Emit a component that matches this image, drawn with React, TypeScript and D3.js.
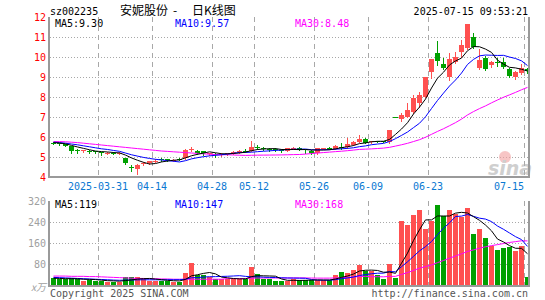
import React from 'react';
import * as d3 from 'd3';

// trading days shown on the chart (2025)
const dates = [
  '03-19', '03-20', '03-21', '03-24', '03-25', '03-26', '03-27', '03-28', '03-31',
  '04-01', '04-02', '04-03', '04-07', '04-08', '04-09', '04-10', '04-11', '04-14', '04-15', '04-16',
  '04-17', '04-18', '04-21', '04-22', '04-23', '04-24', '04-25', '04-28', '04-29', '04-30',
  '05-06', '05-07', '05-08', '05-09', '05-12', '05-13', '05-14', '05-15', '05-16', '05-19',
  '05-20', '05-21', '05-22', '05-23', '05-26', '05-27', '05-28', '05-29', '05-30',
  '06-03', '06-04', '06-05', '06-06', '06-09', '06-10', '06-11', '06-12', '06-13', '06-16',
  '06-17', '06-18', '06-19', '06-20', '06-23', '06-24', '06-25', '06-26', '06-27', '06-30',
  '07-01', '07-02', '07-03', '07-04', '07-07', '07-08', '07-09', '07-10', '07-11', '07-14', '07-15',
];

const tickDates = ['03-31', '04-14', '04-28', '05-12', '05-26', '06-09', '06-23', '07-15'];
const priceTicks = [4, 5, 6, 7, 8, 9, 10, 11, 12];
const volTicks = [80, 160, 240, 320];

const open = [
  5.72, 5.68, 5.63, 5.55, 5.33, 5.28, 5.31, 5.29, 5.25, 5.17,
  5.21, 5.17, 4.93, 4.50, 4.40, 4.66, 4.68, 4.78, 4.88, 4.88,
  4.82, 4.92, 4.93, 5.36, 5.28, 5.28, 5.15, 5.15, 5.10, 5.15,
  5.19, 5.26, 5.32, 5.32, 5.50, 5.45, 5.42, 5.40, 5.34, 5.30,
  5.42, 5.47, 5.38, 5.32, 5.18, 5.42, 5.44, 5.40, 5.52, 5.48,
  5.60, 5.77, 5.90, 5.74, 5.80, 5.78, 5.75, 6.99, 6.88, 7.02,
  7.27, 7.72, 8.02, 9.23, 10.22, 9.65, 9.02, 9.77, 10.23, 10.43,
  11.00, 9.45, 9.97, 9.60, 9.74, 9.77, 9.40, 9.02, 9.22, 9.40,
];
const high = [
  5.75, 5.71, 5.66, 5.57, 5.38, 5.36, 5.35, 5.31, 5.27, 5.24,
  5.25, 5.24, 4.96, 4.62, 4.65, 4.76, 4.82, 4.88, 4.93, 4.92,
  4.90, 4.95, 5.38, 5.48, 5.33, 5.32, 5.22, 5.18, 5.18, 5.22,
  5.30, 5.34, 5.40, 5.80, 5.58, 5.50, 5.45, 5.43, 5.38, 5.45,
  5.48, 5.50, 5.40, 5.34, 5.45, 5.47, 5.48, 5.58, 5.72, 5.97,
  5.78, 6.10, 5.95, 5.82, 5.82, 5.80, 6.35, 6.99, 7.20, 7.68,
  8.08, 8.25, 9.00, 9.90, 10.80, 9.95, 10.18, 10.27, 10.85, 11.65,
  11.20, 10.40, 10.05, 9.80, 9.95, 9.95, 9.45, 9.30, 9.65, 9.45,
];
const low = [
  5.64, 5.60, 5.54, 5.22, 5.22, 5.25, 5.22, 5.20, 5.08, 5.15,
  5.13, 5.14, 4.66, 4.32, 4.15, 4.60, 4.64, 4.74, 4.80, 4.80,
  4.80, 4.83, 4.90, 5.30, 5.15, 5.12, 5.10, 5.02, 5.07, 5.12,
  5.16, 5.22, 5.26, 5.30, 5.40, 5.35, 5.32, 5.30, 5.25, 5.28,
  5.38, 5.33, 5.22, 5.15, 5.16, 5.38, 5.38, 5.38, 5.40, 5.46,
  5.58, 5.75, 5.70, 5.70, 5.74, 5.74, 5.72, 6.98, 6.82, 6.98,
  7.20, 7.52, 7.98, 8.93, 9.60, 9.40, 8.85, 9.70, 10.00, 10.40,
  10.45, 9.40, 9.35, 9.50, 9.55, 9.45, 8.98, 8.90, 9.15, 9.18,
];
const close = [
  5.68, 5.64, 5.57, 5.32, 5.30, 5.33, 5.29, 5.25, 5.18, 5.21,
  5.19, 5.20, 4.70, 4.47, 4.62, 4.68, 4.78, 4.82, 4.86, 4.86,
  4.87, 4.87, 5.33, 5.38, 5.22, 5.18, 5.18, 5.10, 5.14, 5.19,
  5.27, 5.31, 5.30, 5.52, 5.47, 5.40, 5.38, 5.33, 5.30, 5.43,
  5.44, 5.35, 5.35, 5.18, 5.43, 5.44, 5.42, 5.55, 5.50, 5.65,
  5.75, 5.90, 5.72, 5.78, 5.77, 5.77, 6.35, 6.98, 7.12, 7.35,
  7.95, 8.08, 8.98, 9.88, 9.82, 9.43, 9.90, 9.98, 10.60, 11.65,
  10.48, 9.85, 9.40, 9.77, 9.72, 9.48, 9.05, 9.25, 9.43, 9.28,
];
// volume, 万手
const volume = [
  25, 21, 21, 27, 24, 16, 19, 17, 17, 13,
  13, 13, 29, 29, 29, 21, 17, 17, 17, 17,
  13, 13, 47, 85, 38, 38, 30, 21, 24, 24,
  24, 24, 21, 67, 42, 21, 21, 17, 14, 16,
  21, 19, 19, 19, 19, 19, 19, 38, 50, 45,
  57, 76, 53, 53, 38, 23, 80, 28, 245, 230,
  265, 285, 215, 245, 305, 264, 285, 270, 260, 292,
  195, 215, 180, 150, 135, 140, 145, 130, 148, 32,
];

// moving-average values before each window is full
const ma5Head = [5.72, 5.70, 5.66, 5.58];
const ma10Head = [5.74, 5.72, 5.69, 5.65, 5.61, 5.56, 5.51, 5.46, 5.41];
const ma30Head = [
  5.77, 5.77, 5.76, 5.74, 5.72, 5.69, 5.66, 5.63, 5.60, 5.57,
  5.54, 5.51, 5.48, 5.45, 5.42, 5.39, 5.36, 5.33, 5.30, 5.28,
  5.26, 5.24, 5.22, 5.20, 5.18, 5.16, 5.14, 5.12, 5.11,
];
const vma5Head = [26, 25, 24, 24];
const vma10Head = [29, 28, 27, 26, 25, 24, 23, 22, 21];
const vma30Head = [
  34, 34, 34, 33, 33, 33, 32, 32, 31, 30,
  29, 28, 27, 26, 25, 25, 24, 24, 23, 23,
  22, 22, 22, 22, 22, 22, 22, 22, 22,
];

const W = 545;
const H = 300;
const left = 50;
const right = 530;
const priceTop = 17;
const priceBottom = 177;
const volTop = 201;
const volBottom = 285;

const UP = '#ff5050';
const DOWN = '#00a000';
const GRID = '#a8a8a8';
const AXIS = '#9a9a9a';
const MONO = '"DejaVu Sans Mono", "Liberation Mono", monospace';
const CJK = '"Noto Sans CJK SC", sans-serif';

function movingAvg(values: number[], n: number, head: number[]) {
  return values.map((_, i) => (i < n - 1 ? head[i] : d3.mean(values.slice(i - n + 1, i + 1)) as number));
}

export default function App() {
  const x = d3.scaleBand<string>().domain(dates).range([left, right]).paddingInner(0);
  const cx = (d: string) => (x(d) as number) + 3.5;
  const y = d3.scaleLinear().domain([4, 12]).range([priceBottom, priceTop]);
  const yv = d3.scaleLinear().domain([0, 320]).range([volBottom, volTop]);

  const ma5 = movingAvg(close, 5, ma5Head);
  const ma10 = movingAvg(close, 10, ma10Head);
  const ma30 = movingAvg(close, 30, ma30Head);
  const vma5 = movingAvg(volume, 5, vma5Head);
  const vma10 = movingAvg(volume, 10, vma10Head);
  const vma30 = movingAvg(volume, 30, vma30Head);

  const priceLine = d3.line<number>().x((_, i) => cx(dates[i])).y((v) => y(v));
  const volLine = d3.line<number>().x((_, i) => cx(dates[i])).y((v) => yv(v));

  const last = dates.length - 1;
  const f2 = d3.format('.2f');
  const fi = (v: number) => d3.format('d')(Math.round(v));

  const maLabels = (yy: number, vals: string[]) => (
    <g fontFamily={MONO} fontSize={10}>
      <text x={55} y={yy} fill="#000">{`MA5:${vals[0]}`}</text>
      <text x={175} y={yy} fill="#0000ff">{`MA10:${vals[1]}`}</text>
      <text x={295} y={yy} fill="#ff00ff">{`MA30:${vals[2]}`}</text>
    </g>
  );

  return (
    <svg width={W} height={H} style={{ position: 'absolute', left: 0, top: 0, background: '#fff' }}>
      {/* header */}
      <text x={50} y={15} fontFamily={MONO} fontSize={10} fill="#000">sz002235</text>
      <g fontFamily={CJK} fontSize={12} fill="#000">
        <text x={120} y={15}>安妮股份</text>
        <text x={173} y={15}>-</text>
        <text x={192} y={15}>日K线图</text>
      </g>
      <text x={528} y={15} textAnchor="end" fontFamily={MONO} fontSize={10} fill="#000">2025-07-15 09:53:21</text>

      {/* grids */}
      <g shapeRendering="crispEdges">
        {priceTicks.filter((p) => p > 4 && p < 12).map((p) => (
          <line key={`pg${p}`} x1={left} x2={right} y1={Math.round(y(p)) + 0.5} y2={Math.round(y(p)) + 0.5}
            stroke={GRID} strokeDasharray="1,2" />
        ))}
        {volTicks.filter((v) => v < 320).map((v) => (
          <line key={`vg${v}`} x1={left} x2={right} y1={Math.round(yv(v)) + 0.5} y2={Math.round(yv(v)) + 0.5}
            stroke={GRID} strokeDasharray="1,2" />
        ))}
        {tickDates.map((d) => (
          <g key={`vx${d}`}>
            <line x1={(x(d) as number) + 0.5} x2={(x(d) as number) + 0.5} y1={priceTop} y2={priceBottom}
              stroke={GRID} strokeDasharray="5,4" />
            <line x1={(x(d) as number) + 0.5} x2={(x(d) as number) + 0.5} y1={volTop} y2={volBottom}
              stroke={GRID} strokeDasharray="5,4" />
          </g>
        ))}
      </g>

      {/* sina watermark */}
      <g opacity={0.6}>
        <circle cx={505} cy={157} r={6} fill="#f2a0a0" />
        <text x={510} y={175} textAnchor="middle" fontFamily='"DejaVu Sans", sans-serif' fontSize={19}
          fontWeight="bold" fontStyle="italic" fill="#b0b0b0">sina</text>
      </g>

      {/* candles */}
      <g shapeRendering="crispEdges">
        {dates.map((d, i) => {
          const up = close[i] >= open[i];
          const col = up ? UP : DOWN;
          const top = Math.round(y(Math.max(open[i], close[i])));
          const bot = Math.round(y(Math.min(open[i], close[i])));
          return (
            <g key={d}>
              <line x1={cx(d)} x2={cx(d)} y1={Math.round(y(high[i]))} y2={Math.round(y(low[i])) + 1} stroke={col} />
              <rect x={(x(d) as number) + 1} y={top} width={5} height={Math.max(1, bot - top)} fill={col} />
            </g>
          );
        })}
      </g>

      {/* price MAs */}
      <path d={priceLine(ma30) as string} fill="none" stroke="#ff00ff" strokeWidth={1} />
      <path d={priceLine(ma10) as string} fill="none" stroke="#0000ff" strokeWidth={1} />
      <path d={priceLine(ma5) as string} fill="none" stroke="#000" strokeWidth={1} />

      {/* volume bars */}
      <g shapeRendering="crispEdges">
        {dates.map((d, i) => {
          const top = Math.round(yv(Math.min(volume[i], 320)));
          return (
            <rect key={`v${d}`} x={(x(d) as number) + 1} y={top} width={5} height={volBottom - top}
              fill={close[i] >= open[i] ? UP : DOWN} />
          );
        })}
      </g>

      {/* volume MAs */}
      <path d={volLine(vma30) as string} fill="none" stroke="#ff00ff" strokeWidth={1} />
      <path d={volLine(vma10) as string} fill="none" stroke="#0000ff" strokeWidth={1} />
      <path d={volLine(vma5) as string} fill="none" stroke="#000" strokeWidth={1} />

      {/* frames */}
      <g stroke={AXIS} strokeWidth={2} shapeRendering="crispEdges">
        <line x1={49} x2={49} y1={priceTop} y2={priceBottom + 1} />
        <line x1={48} x2={right} y1={priceBottom} y2={priceBottom} />
        <line x1={right - 1} x2={right - 1} y1={priceTop} y2={priceBottom} />
        <line x1={49} x2={49} y1={volTop} y2={volBottom + 1} />
        <line x1={48} x2={right} y1={volBottom + 1} y2={volBottom + 1} />
        <line x1={right - 1} x2={right - 1} y1={volTop} y2={volBottom} />
      </g>

      {/* price axis labels */}
      <g fontFamily={MONO} fontSize={10} fill="#ff0000" textAnchor="end">
        {priceTicks.map((p) => (
          <text key={`pl${p}`} x={46} y={y(p)} dominantBaseline="central">{p}</text>
        ))}
      </g>

      {/* date labels */}
      <g fontFamily={MONO} fontSize={10} fill="#0a78d2" textAnchor="middle">
        {tickDates.map((d, k) => {
          const label = k === 0 ? `2025-${d}` : d;
          const half = (label.length * 6.02) / 2;
          const px = Math.min(x(d) as number, 524 - half);
          return <text key={`dl${d}`} x={px} y={190}>{label}</text>;
        })}
      </g>

      {/* volume axis labels */}
      <g fontFamily={MONO} fontSize={10} fill="#a0a0a0" textAnchor="end">
        {volTicks.map((v) => (
          <text key={`vl${v}`} x={46} y={yv(v)} dominantBaseline="central">{v}</text>
        ))}
        <text x={46} y={volBottom + 1} dominantBaseline="central" fontStyle="italic" fontFamily={CJK}>x万</text>
      </g>

      {maLabels(27, [f2(ma5[last]), f2(ma10[last]), f2(ma30[last])])}
      {maLabels(208, [fi(vma5[last]), fi(vma10[last]), fi(vma30[last])])}

      {/* footer */}
      <text x={50} y={297} fontFamily={MONO} fontSize={10} fill="#555">Copyright 2025 SINA.COM</text>
      <text x={528} y={297} textAnchor="end" fontFamily={MONO} fontSize={10} fill="#555">http://finance.sina.com.cn</text>
    </svg>
  );
}
